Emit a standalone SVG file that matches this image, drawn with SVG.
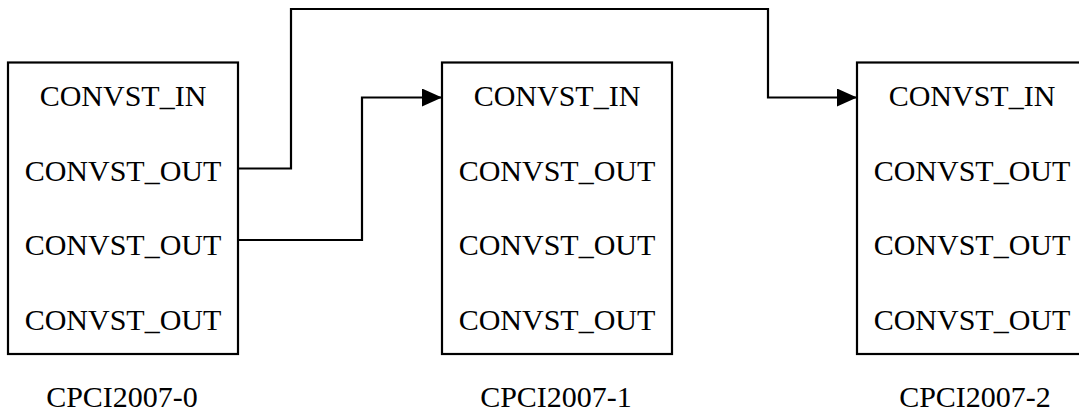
<svg xmlns="http://www.w3.org/2000/svg" width="1079" height="415" viewBox="0 0 1079 415">
<style>
.box{fill:#fff;stroke:#000;stroke-width:2.2}
.t{font-family:"Liberation Serif","Times New Roman",serif;font-size:30px;fill:#000;text-anchor:middle}
.c{fill:none;stroke:#000;stroke-width:2.2}
</style>
<defs>
<marker id="ah" markerUnits="userSpaceOnUse" markerWidth="20" markerHeight="18" refX="20" refY="9" orient="auto">
<path d="M0,0 L20,9 L0,18 Z" fill="#000"/>
</marker>
</defs>
<rect width="1079" height="415" fill="#fff"/>
<g id="node0">
<rect class="box" x="8" y="62.5" width="230" height="291.5"/>
<text class="t" x="123" y="106">CONVST_IN</text>
<text class="t" x="123" y="181">CONVST_OUT</text>
<text class="t" x="123" y="255">CONVST_OUT</text>
<text class="t" x="123" y="330">CONVST_OUT</text>
<text class="t" x="122" y="407">CPCI2007-0</text>
</g>
<g id="node1">
<rect class="box" x="442" y="62.5" width="230" height="291.5"/>
<text class="t" x="557" y="106">CONVST_IN</text>
<text class="t" x="557" y="181">CONVST_OUT</text>
<text class="t" x="557" y="255">CONVST_OUT</text>
<text class="t" x="557" y="330">CONVST_OUT</text>
<text class="t" x="556" y="407">CPCI2007-1</text>
</g>
<g id="node2">
<rect class="box" x="857" y="62.5" width="230" height="291.5"/>
<text class="t" x="972" y="106">CONVST_IN</text>
<text class="t" x="972" y="181">CONVST_OUT</text>
<text class="t" x="972" y="255">CONVST_OUT</text>
<text class="t" x="972" y="330">CONVST_OUT</text>
<text class="t" x="975" y="407">CPCI2007-2</text>
</g>
<g id="connectors">
<polyline class="c" points="238,168.5 291,168.5 291,9 768,9 768,97.5 857,97.5" marker-end="url(#ah)"/>
<polyline class="c" points="238,240 362,240 362,97.5 442,97.5" marker-end="url(#ah)"/>
</g>
</svg>
